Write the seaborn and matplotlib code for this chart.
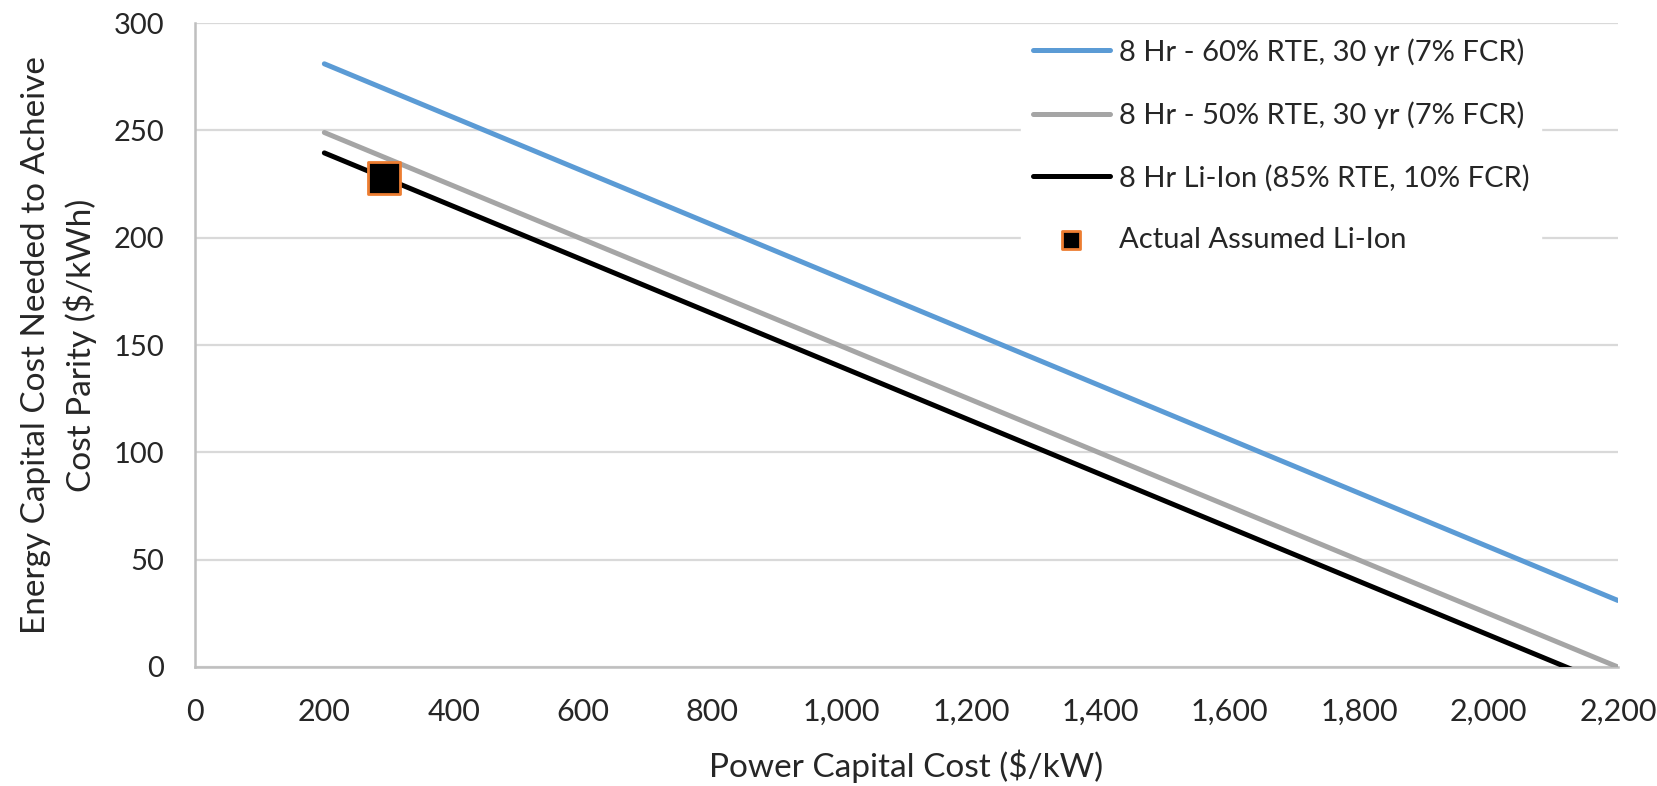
import pandas as pd
import numpy as np
import matplotlib
matplotlib.use('Agg')
import matplotlib.pyplot as plt
import matplotlib.ticker as mticker
import seaborn as sns

sns.set_style('white')
plt.rcParams['font.family'] = ['Lato', 'DejaVu Sans']

# 데이터
power_cost = [200, 2200]
blue_60 = [281, 31]
gray_50 = [249, 0]
liion_85 = [239.5, -10]
labels = ['8 Hr - 60% RTE, 30 yr (7% FCR)',
          '8 Hr - 50% RTE, 30 yr (7% FCR)',
          '8 Hr Li-Ion (85% RTE, 10% FCR)']
actual_x = [292]
actual_y = [228]

COLORS = {labels[0]: '#5B9BD5', labels[1]: '#A5A5A5', labels[2]: '#000000'}

df = pd.concat([
    pd.DataFrame({'power': power_cost, 'energy': vals, 'series': lab})
    for vals, lab in zip([blue_60, gray_50, liion_85], labels)
])
pt = pd.DataFrame({'power': actual_x, 'energy': actual_y,
                   'series': 'Actual Assumed Li-Ion'})

fig = plt.figure(figsize=(16.58, 7.86), dpi=100)
ax = fig.add_axes([0.1176, 0.1514, 0.8582, 0.8193])

sns.lineplot(data=df, x='power', y='energy', hue='series', palette=COLORS,
             linewidth=3.6, ax=ax, zorder=3, solid_capstyle='round')
sns.scatterplot(data=pt, x='power', y='energy', marker='s', s=500,
                color='black', edgecolor='#ED7D31', linewidth=2, ax=ax,
                label='Actual Assumed Li-Ion', zorder=4)

ax.set_xlim(0, 2200)
ax.set_ylim(0, 300)
ax.xaxis.set_major_locator(mticker.MultipleLocator(200))
ax.yaxis.set_major_locator(mticker.MultipleLocator(50))
ax.xaxis.set_major_formatter(mticker.FuncFormatter(lambda v, p: f'{int(v):,}'))
ax.tick_params(axis='x', labelsize=22, length=0, pad=22)
ax.tick_params(axis='y', labelsize=21, length=0, pad=22)
ax.grid(axis='y', color='#D9D9D9', linewidth=1.6, zorder=0)
ax.set_axisbelow(True)
for s in ['top', 'right']:
    ax.spines[s].set_visible(False)
for s in ['left', 'bottom']:
    ax.spines[s].set_color('#BFBFBF')
    ax.spines[s].set_linewidth(1.8)

ax.set_xlabel('Power Capital Cost ($/kW)', fontsize=24, labelpad=17)
ax.set_ylabel('Energy Capital Cost Needed to Acheive\nCost Parity ($/kWh)',
              fontsize=24, labelpad=12, linespacing=1.45)

# 범례: 축 범례 제거 후 figure 범례로
handles, lbls = ax.get_legend_handles_labels()
ax.get_legend().remove()
leg = fig.legend(handles, lbls, loc='upper left',
                 bbox_to_anchor=(0.607, 0.985), frameon=True, fontsize=21,
                 labelspacing=1.22, handlelength=2.65, handletextpad=0.3,
                 markerscale=0.6, borderpad=0.4)
leg.get_frame().set_edgecolor('white')
leg.get_frame().set_facecolor('white')
leg.get_frame().set_alpha(1)
leg.set_zorder(5)

plt.savefig('out.png', dpi=100)
plt.close()
